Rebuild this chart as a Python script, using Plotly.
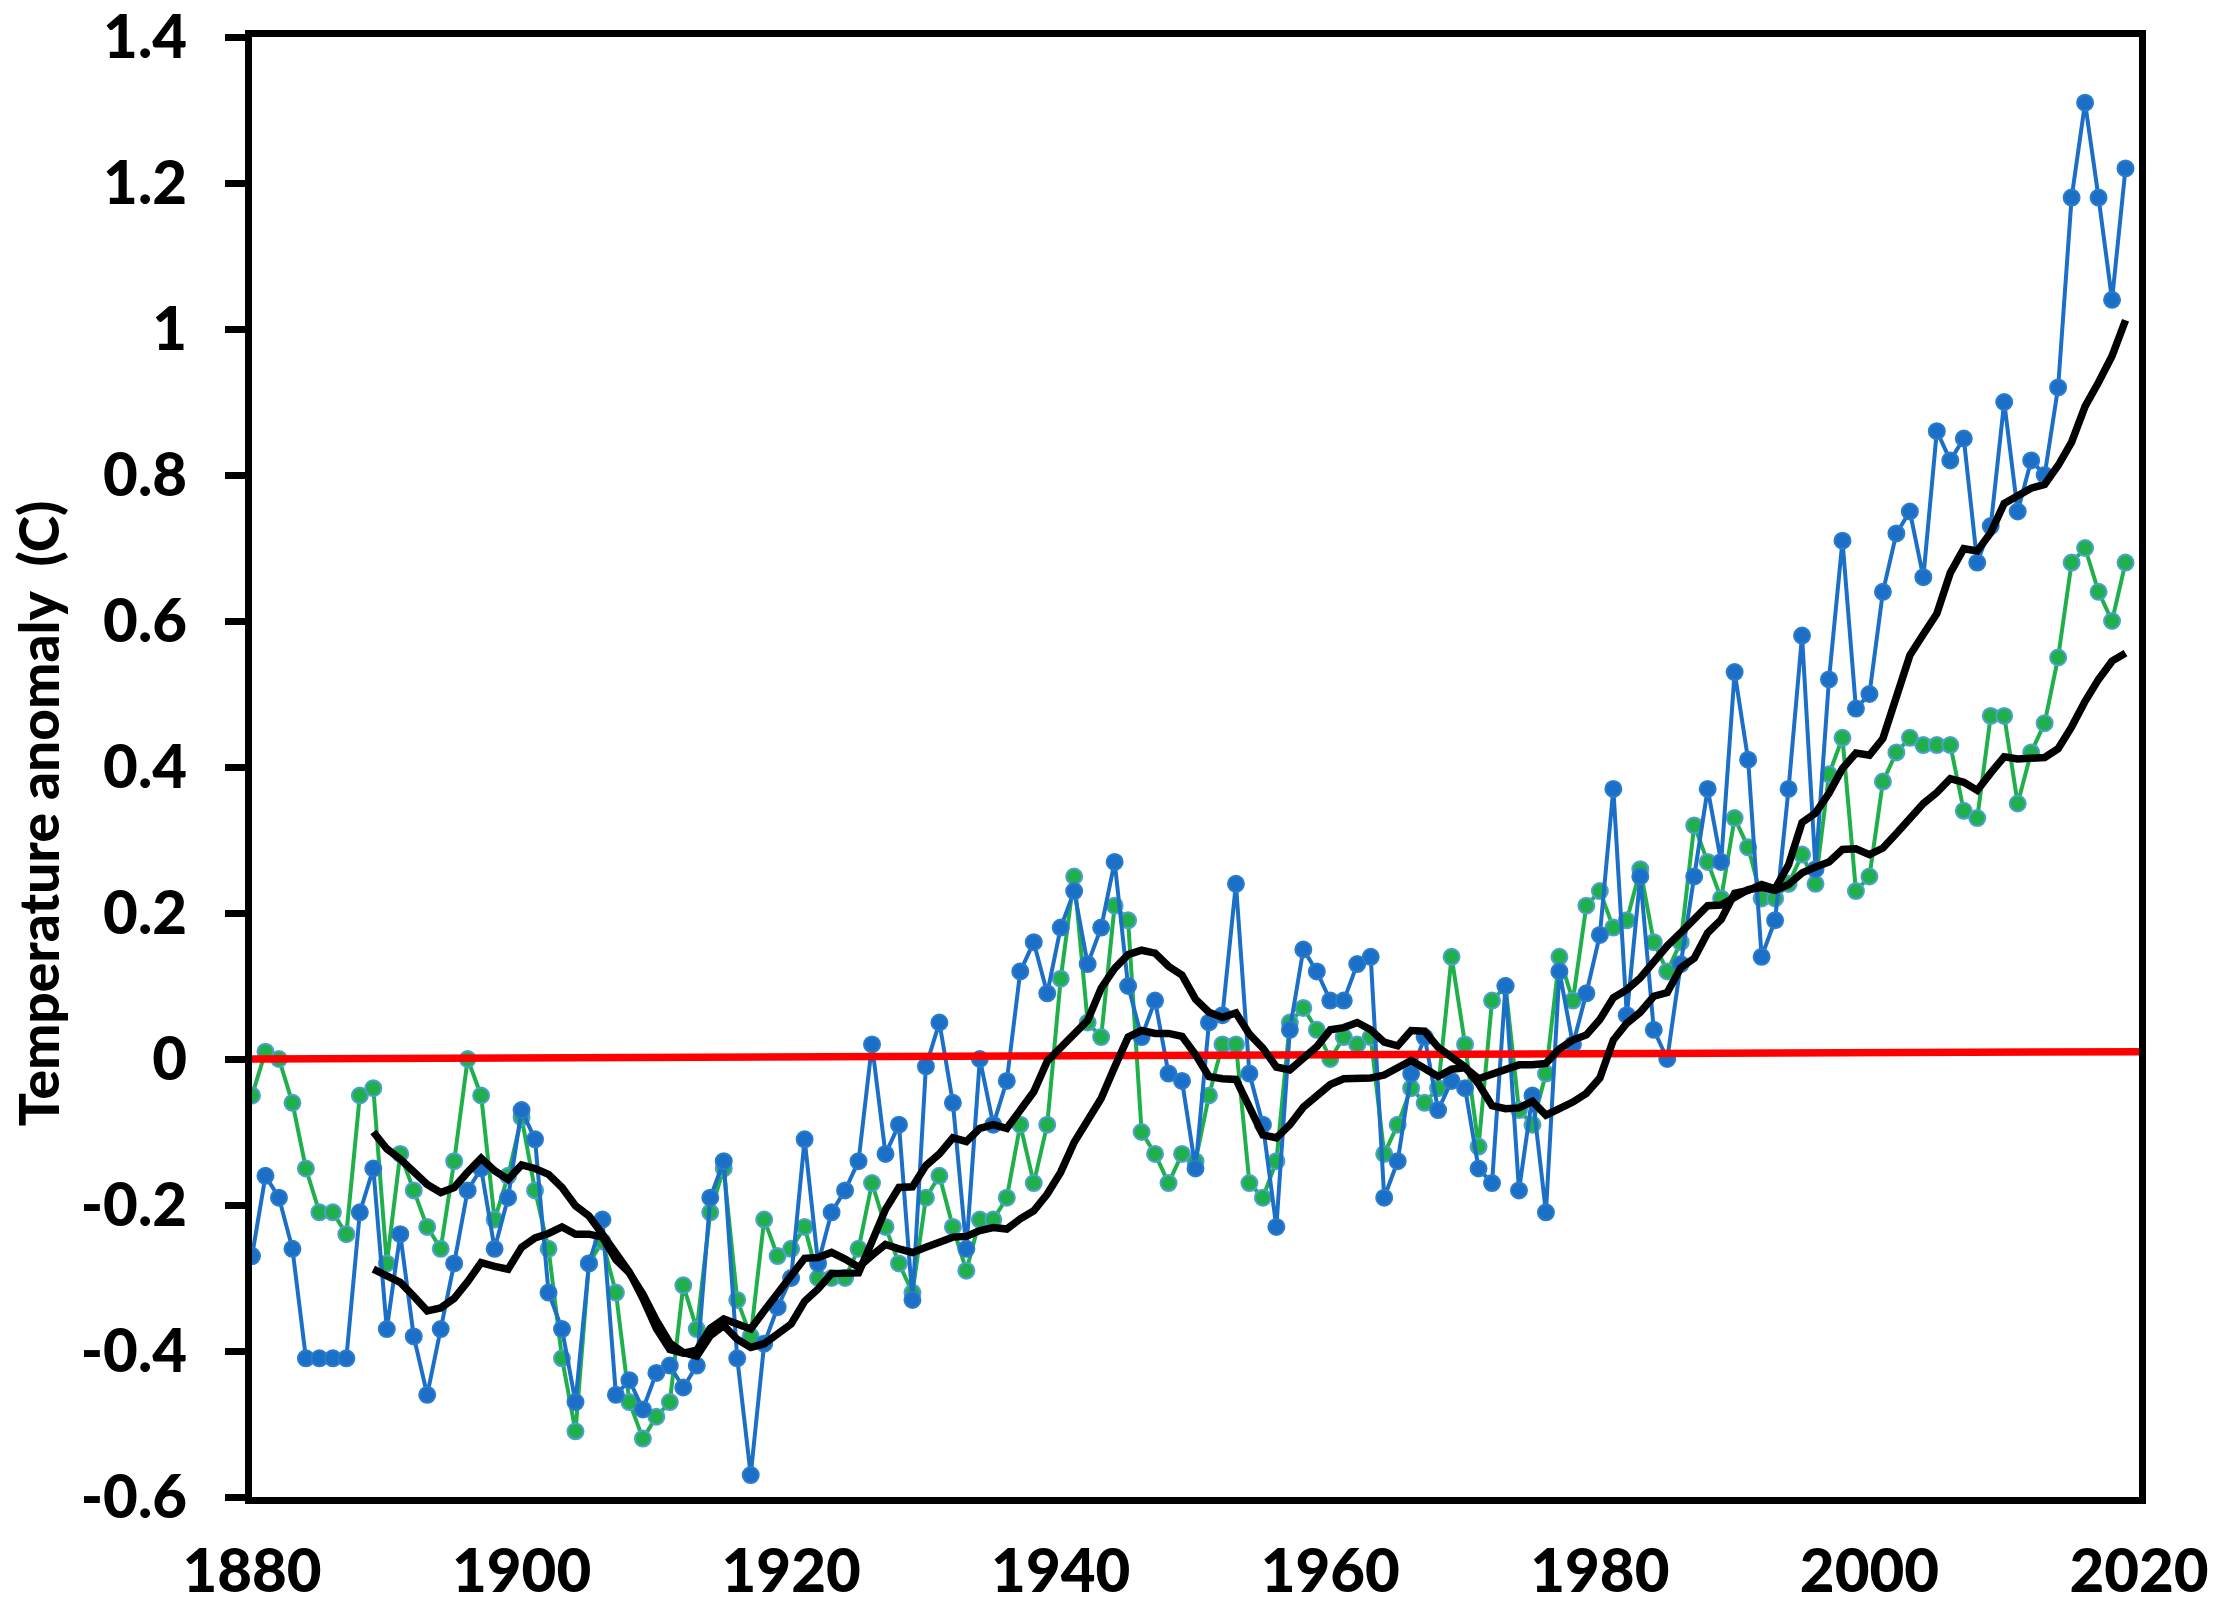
#!/usr/bin/python3
# -*- coding: utf-8 -*-

import plotly.graph_objs as go

# annual anomalies, 1880-2019
YEARS = list(range(1880, 2020))

BLUE_SERIES = [
    -0.27, -0.16, -0.19, -0.26, -0.41, -0.41, -0.41, -0.41, -0.21, -0.15,
    -0.37, -0.24, -0.38, -0.46, -0.37, -0.28, -0.18, -0.15, -0.26, -0.19,
    -0.07, -0.11, -0.32, -0.37, -0.47, -0.28, -0.22, -0.46, -0.44, -0.48,
    -0.43, -0.42, -0.45, -0.42, -0.19, -0.14, -0.41, -0.57, -0.39, -0.34,
    -0.30, -0.11, -0.28, -0.21, -0.18, -0.14, 0.02, -0.13, -0.09, -0.33,
    -0.01, 0.05, -0.06, -0.26, 0.00, -0.09, -0.03, 0.12, 0.16, 0.09,
    0.18, 0.23, 0.13, 0.18, 0.27, 0.10, 0.03, 0.08, -0.02, -0.03,
    -0.15, 0.05, 0.06, 0.24, -0.02, -0.09, -0.23, 0.04, 0.15, 0.12,
    0.08, 0.08, 0.13, 0.14, -0.19, -0.14, -0.02, 0.03, -0.07, -0.03,
    -0.04, -0.15, -0.17, 0.10, -0.18, -0.05, -0.21, 0.12, 0.02, 0.09,
    0.17, 0.37, 0.06, 0.25, 0.04, 0.00, 0.13, 0.25, 0.37, 0.27,
    0.53, 0.41, 0.14, 0.19, 0.37, 0.58, 0.26, 0.52, 0.71, 0.48,
    0.50, 0.64, 0.72, 0.75, 0.66, 0.86, 0.82, 0.85, 0.68, 0.73,
    0.90, 0.75, 0.82, 0.80, 0.92, 1.18, 1.31, 1.18, 1.04, 1.22,
]

GREEN_SERIES = [
    -0.05, 0.01, 0.00, -0.06, -0.15, -0.21, -0.21, -0.24, -0.05, -0.04,
    -0.28, -0.13, -0.18, -0.23, -0.26, -0.14, 0.00, -0.05, -0.22, -0.16,
    -0.08, -0.18, -0.26, -0.41, -0.51, -0.28, -0.25, -0.32, -0.47, -0.52,
    -0.49, -0.47, -0.31, -0.37, -0.21, -0.15, -0.33, -0.38, -0.22, -0.27,
    -0.26, -0.23, -0.30, -0.30, -0.30, -0.26, -0.17, -0.23, -0.28, -0.32,
    -0.19, -0.16, -0.23, -0.29, -0.22, -0.22, -0.19, -0.09, -0.17, -0.09,
    0.11, 0.25, 0.05, 0.03, 0.21, 0.19, -0.10, -0.13, -0.17, -0.13,
    -0.14, -0.05, 0.02, 0.02, -0.17, -0.19, -0.14, 0.05, 0.07, 0.04,
    0.00, 0.03, 0.02, 0.03, -0.13, -0.09, -0.04, -0.06, -0.04, 0.14,
    0.02, -0.12, 0.08, 0.10, -0.07, -0.09, -0.02, 0.14, 0.08, 0.21,
    0.23, 0.18, 0.19, 0.26, 0.16, 0.12, 0.16, 0.32, 0.27, 0.22,
    0.33, 0.29, 0.22, 0.22, 0.24, 0.28, 0.24, 0.39, 0.44, 0.23,
    0.25, 0.38, 0.42, 0.44, 0.43, 0.43, 0.43, 0.34, 0.33, 0.47,
    0.47, 0.35, 0.42, 0.46, 0.55, 0.68, 0.70, 0.64, 0.60, 0.68,
]

# black smoothed curves, 1889-2019
SMOOTH_YEARS = list(range(1889, 2020))

BLUE_SMOOTH = [
    -0.288, -0.298, -0.306, -0.325, -0.345, -0.341, -0.328, -0.305, -0.279, -0.284,
    -0.288, -0.258, -0.245, -0.239, -0.230, -0.240, -0.240, -0.244, -0.275, -0.293,
    -0.322, -0.358, -0.389, -0.402, -0.407, -0.379, -0.365, -0.384, -0.395, -0.390,
    -0.376, -0.363, -0.332, -0.315, -0.294, -0.293, -0.293, -0.250, -0.206, -0.176,
    -0.175, -0.146, -0.130, -0.108, -0.113, -0.095, -0.090, -0.095, -0.070, -0.045,
    -0.003, 0.016, 0.034, 0.053, 0.097, 0.124, 0.143, 0.149, 0.145, 0.127,
    0.115, 0.082, 0.064, 0.057, 0.063, 0.034, 0.015, -0.011, -0.015, 0.002,
    0.017, 0.040, 0.043, 0.050, 0.040, 0.023, 0.018, 0.039, 0.038, 0.016,
    0.001, -0.011, -0.034, -0.064, -0.068, -0.067, -0.058, -0.077, -0.068, -0.059,
    -0.047, -0.026, 0.026, 0.049, 0.064, 0.086, 0.091, 0.125, 0.138, 0.173,
    0.191, 0.227, 0.231, 0.239, 0.233, 0.266, 0.324, 0.337, 0.364, 0.398,
    0.419, 0.416, 0.439, 0.497, 0.553, 0.582, 0.610, 0.666, 0.699, 0.696,
    0.721, 0.761, 0.772, 0.782, 0.787, 0.813, 0.845, 0.894, 0.927, 0.963,
    1.012,
]

GREEN_SMOOTH = [
    -0.100, -0.123, -0.137, -0.155, -0.172, -0.183, -0.176, -0.155, -0.136, -0.153,
    -0.165, -0.145, -0.150, -0.158, -0.176, -0.201, -0.215, -0.240, -0.267, -0.292,
    -0.328, -0.369, -0.398, -0.403, -0.399, -0.369, -0.356, -0.364, -0.370, -0.345,
    -0.320, -0.297, -0.273, -0.272, -0.265, -0.274, -0.285, -0.269, -0.254, -0.260,
    -0.265, -0.258, -0.251, -0.244, -0.243, -0.235, -0.231, -0.233, -0.219, -0.208,
    -0.185, -0.155, -0.114, -0.086, -0.054, -0.011, 0.030, 0.039, 0.035, 0.035,
    0.031, 0.006, -0.024, -0.027, -0.028, -0.066, -0.104, -0.108, -0.090, -0.066,
    -0.049, -0.035, -0.027, -0.027, -0.026, -0.022, -0.012, -0.002, -0.013, -0.024,
    -0.014, -0.012, -0.027, -0.021, -0.014, -0.008, -0.008, -0.006, 0.014, 0.026,
    0.033, 0.054, 0.084, 0.095, 0.111, 0.134, 0.155, 0.173, 0.191, 0.210,
    0.211, 0.221, 0.232, 0.235, 0.231, 0.239, 0.255, 0.263, 0.270, 0.287,
    0.288, 0.280, 0.289, 0.309, 0.331, 0.350, 0.365, 0.384, 0.379, 0.368,
    0.392, 0.414, 0.411, 0.411, 0.413, 0.425, 0.455, 0.490, 0.520, 0.545,
    0.556,
]

# red reference line
RED_YEARS = [1880, 2020]
RED_VALUES = [0.0, 0.01]

# axes
X_TICKS = [1880, 1900, 1920, 1940, 1960, 1980, 2000, 2020]
Y_TICKS = [1.4, 1.2, 1.0, 0.8, 0.6, 0.4, 0.2, 0.0, -0.2, -0.4, -0.6]
Y_TICK_LABELS = ['1.4', '1.2', '1', '0.8', '0.6', '0.4', '0.2', '0', '-0.2', '-0.4', '-0.6']
Y_TITLE = 'Temperature anomaly\u00a0 (C)'

BLUE = '#1b6fc6'
GREEN = '#20b04b'
FAMILY = 'Lato, Open Sans, sans-serif'


def annual_trace(y, color, edge):
    """
    :param y: list
    :param color: string
    :param edge: string
    :return: Scatter
    """
    return go.Scatter(x=YEARS, y=y, mode='lines+markers',
                      line=dict(color=color, width=4),
                      marker=dict(size=16, color=color, line=dict(color=edge, width=2)),
                      showlegend=False)


def smooth_trace(y):
    """
    :param y: list
    :return: Scatter
    """
    return go.Scatter(x=SMOOTH_YEARS, y=y, mode='lines',
                      line=dict(color='black', width=7.5), showlegend=False)


def creating_figure():
    """
    :return: Plotly Figure
    """
    fig = go.Figure()
    fig.add_trace(annual_trace(GREEN_SERIES, GREEN, '#4d9fd6'))
    fig.add_trace(annual_trace(BLUE_SERIES, BLUE, '#2a7ccc'))
    fig.add_trace(go.Scatter(x=RED_YEARS, y=RED_VALUES, mode='lines',
                             line=dict(color='#ff0000', width=7.5), showlegend=False))
    fig.add_trace(smooth_trace(BLUE_SMOOTH))
    fig.add_trace(smooth_trace(GREEN_SMOOTH))

    # y title sits a little below the middle of the axis in the original
    fig.add_annotation(text=Y_TITLE, xref='paper', yref='paper', x=-0.1137, y=0.468,
                       xanchor='center', yanchor='middle', textangle=-90, showarrow=False,
                       font=dict(family=FAMILY, size=55, color='black', weight=900))

    fig.update_layout(
        width=2217,
        height=1610,
        margin=dict(l=252, r=78, t=37, b=113),
        paper_bgcolor='white',
        plot_bgcolor='white',
        font=dict(family=FAMILY, size=60, color='black', weight=900),
        xaxis=dict(
            range=[1880, 2020],
            tickvals=X_TICKS,
            showgrid=False,
            zeroline=False,
            showline=True,
            mirror=True,
            linecolor='black',
            linewidth=7,
            ticks='',
            ticklabelstandoff=16,
            ticklabeloverflow='allow',
            automargin=False,
        ),
        yaxis=dict(
            range=[-0.6, 1.4],
            tickvals=Y_TICKS,
            ticktext=Y_TICK_LABELS,
            showgrid=False,
            zeroline=False,
            showline=True,
            mirror=True,
            linecolor='black',
            linewidth=7,
            ticks='outside',
            ticklen=20,
            tickwidth=7,
            tickcolor='black',
            ticklabelstandoff=26,
            ticklabeloverflow='allow',
            automargin=False,
        ),
    )
    return fig


def main():
    fig = creating_figure()
    fig.write_html('out.html', config={'displayModeBar': False},
                   post_script="document.body.style.margin='0px';")


if __name__ == "__main__":
    main()
